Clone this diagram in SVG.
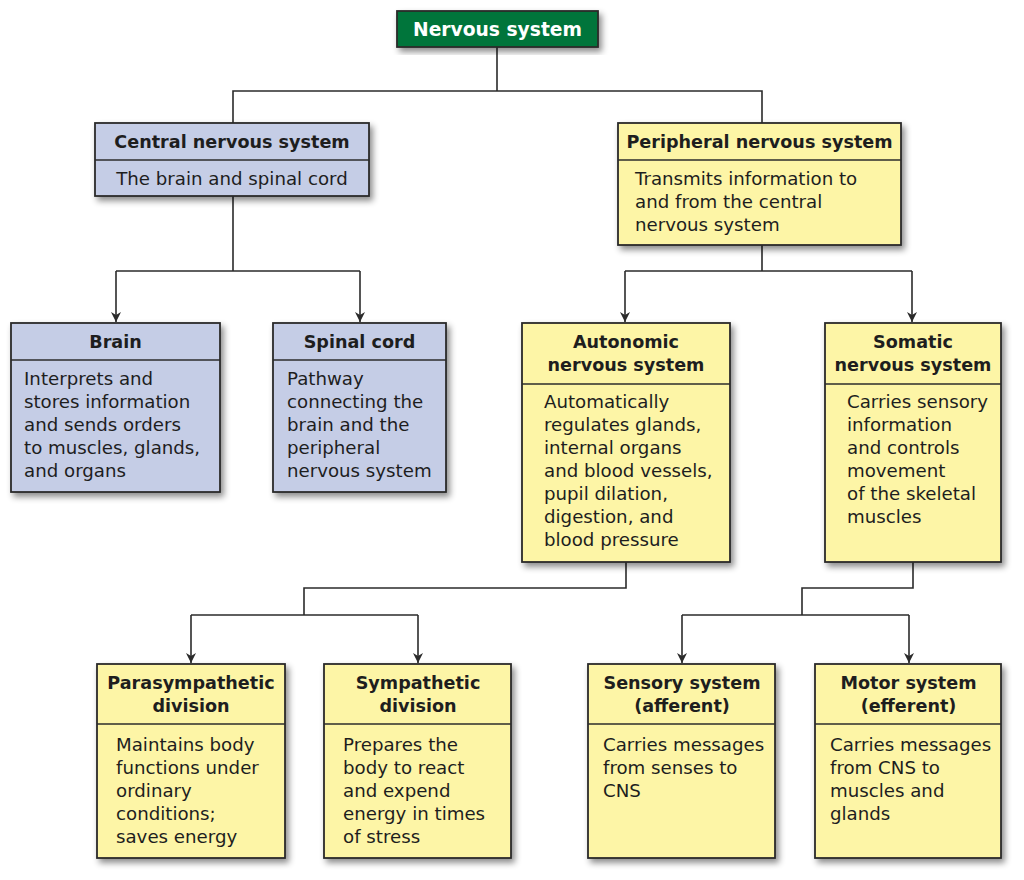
<svg xmlns="http://www.w3.org/2000/svg" width="1024" height="880" viewBox="0 0 1024 880">
<defs>
<filter id="sh" x="-10%" y="-10%" width="130%" height="130%">
<feDropShadow dx="3" dy="4" stdDeviation="3" flood-color="#000" flood-opacity="0.45"/>
</filter>
<marker id="ar" viewBox="0 0 10 10" refX="10" refY="5" markerWidth="10" markerHeight="10" markerUnits="userSpaceOnUse" orient="auto">
<path d="M0,0 L10,5 L0,10 L3,5 z" fill="#2b2b2b"/>
</marker>
</defs>
<style>
.box{stroke:#2b2b2b;stroke-width:1.8;filter:url(#sh)}
.blue{fill:#c5cde6}
.yel{fill:#fdf5a6}
.div{stroke:#2b2b2b;stroke-width:1.5}
.t{font-family:"DejaVu Sans","Open Sans",sans-serif;font-weight:700;font-size:17.6px;fill:#1e1e1e;text-anchor:middle}
.b{font-family:"DejaVu Sans","Open Sans",sans-serif;font-size:18.2px;fill:#1e1e1e}
.con{fill:none;stroke:#2b2b2b;stroke-width:1.6}
</style>
<rect width="1024" height="880" fill="#fff"/>
<g id="connectors" class="con">
<path d="M497,47 V91 M233,123 V91 H762 V123"/>
<path d="M233,196 V271 M116,271 H360"/>
<path d="M116,271 V322" marker-end="url(#ar)"/>
<path d="M360,271 V322" marker-end="url(#ar)"/>
<path d="M762,245 V271 M625,271 H912"/>
<path d="M625,271 V322" marker-end="url(#ar)"/>
<path d="M912,271 V322" marker-end="url(#ar)"/>
<path d="M626,562 V588 H304 V615 M191,615 H418"/>
<path d="M191,615 V663" marker-end="url(#ar)"/>
<path d="M418,615 V663" marker-end="url(#ar)"/>
<path d="M913,562 V588 H802 V615 M682,615 H909"/>
<path d="M682,615 V663" marker-end="url(#ar)"/>
<path d="M909,615 V663" marker-end="url(#ar)"/>
</g>
<g id="nervous-system">
<rect x="397" y="11" width="201" height="36" fill="#00753a" class="box"/>
<text x="497.5" y="36" class="t" style="fill:#fff;font-size:18.7px">Nervous system</text>
</g>
<g id="cns">
<rect x="95" y="123" width="274" height="73" class="box blue"/>
<line x1="95" y1="160" x2="369" y2="160" class="div"/>
<text x="232" y="148" class="t">Central nervous system</text>
<text x="232" y="185" class="b" text-anchor="middle">The brain and spinal cord</text>
</g>
<g id="pns">
<rect x="618" y="123" width="283" height="122" class="box yel"/>
<line x1="618" y1="160" x2="901" y2="160" class="div"/>
<text x="759.5" y="148" class="t">Peripheral nervous system</text>
<text class="b"><tspan x="635" y="185">Transmits information to</tspan><tspan x="635" y="208">and from the central</tspan><tspan x="635" y="231">nervous system</tspan></text>
</g>
<g id="brain">
<rect x="11" y="323" width="209" height="169" class="box blue"/>
<line x1="11" y1="360" x2="220" y2="360" class="div"/>
<text x="115.5" y="348" class="t">Brain</text>
<text class="b"><tspan x="24" y="385">Interprets and</tspan><tspan x="24" y="408">stores information</tspan><tspan x="24" y="431">and sends orders</tspan><tspan x="24" y="454">to muscles, glands,</tspan><tspan x="24" y="477">and organs</tspan></text>
</g>
<g id="spinal-cord">
<rect x="273" y="323" width="173" height="169" class="box blue"/>
<line x1="273" y1="360" x2="446" y2="360" class="div"/>
<text x="359.5" y="348" class="t">Spinal cord</text>
<text class="b"><tspan x="287" y="385">Pathway</tspan><tspan x="287" y="408">connecting the</tspan><tspan x="287" y="431">brain and the</tspan><tspan x="287" y="454">peripheral</tspan><tspan x="287" y="477">nervous system</tspan></text>
</g>
<g id="autonomic">
<rect x="522" y="323" width="208" height="239" class="box yel"/>
<line x1="522" y1="384" x2="730" y2="384" class="div"/>
<text class="t"><tspan x="626" y="348">Autonomic</tspan><tspan x="626" y="371">nervous system</tspan></text>
<text class="b"><tspan x="544" y="408">Automatically</tspan><tspan x="544" y="431">regulates glands,</tspan><tspan x="544" y="454">internal organs</tspan><tspan x="544" y="477">and blood vessels,</tspan><tspan x="544" y="500">pupil dilation,</tspan><tspan x="544" y="523">digestion, and</tspan><tspan x="544" y="546">blood pressure</tspan></text>
</g>
<g id="somatic">
<rect x="825" y="323" width="176" height="239" class="box yel"/>
<line x1="825" y1="384" x2="1001" y2="384" class="div"/>
<text class="t"><tspan x="913" y="348">Somatic</tspan><tspan x="913" y="371">nervous system</tspan></text>
<text class="b"><tspan x="847" y="408">Carries sensory</tspan><tspan x="847" y="431">information</tspan><tspan x="847" y="454">and controls</tspan><tspan x="847" y="477">movement</tspan><tspan x="847" y="500">of the skeletal</tspan><tspan x="847" y="523">muscles</tspan></text>
</g>
<g id="parasympathetic">
<rect x="97" y="664" width="188" height="194" class="box yel"/>
<line x1="97" y1="724" x2="285" y2="724" class="div"/>
<text class="t"><tspan x="191" y="689">Parasympathetic</tspan><tspan x="191" y="712">division</tspan></text>
<text class="b"><tspan x="116" y="751">Maintains body</tspan><tspan x="116" y="774">functions under</tspan><tspan x="116" y="797">ordinary</tspan><tspan x="116" y="820">conditions;</tspan><tspan x="116" y="843">saves energy</tspan></text>
</g>
<g id="sympathetic">
<rect x="324" y="664" width="187" height="194" class="box yel"/>
<line x1="324" y1="724" x2="511" y2="724" class="div"/>
<text class="t"><tspan x="418" y="689">Sympathetic</tspan><tspan x="418" y="712">division</tspan></text>
<text class="b"><tspan x="343" y="751">Prepares the</tspan><tspan x="343" y="774">body to react</tspan><tspan x="343" y="797">and expend</tspan><tspan x="343" y="820">energy in times</tspan><tspan x="343" y="843">of stress</tspan></text>
</g>
<g id="sensory">
<rect x="588" y="664" width="187" height="194" class="box yel"/>
<line x1="588" y1="724" x2="775" y2="724" class="div"/>
<text class="t"><tspan x="682" y="689">Sensory system</tspan><tspan x="682" y="712">(afferent)</tspan></text>
<text class="b"><tspan x="603" y="751">Carries messages</tspan><tspan x="603" y="774">from senses to</tspan><tspan x="603" y="797">CNS</tspan></text>
</g>
<g id="motor">
<rect x="815" y="664" width="186" height="194" class="box yel"/>
<line x1="815" y1="724" x2="1001" y2="724" class="div"/>
<text class="t"><tspan x="908.5" y="689">Motor system</tspan><tspan x="908.5" y="712">(efferent)</tspan></text>
<text class="b"><tspan x="830" y="751">Carries messages</tspan><tspan x="830" y="774">from CNS to</tspan><tspan x="830" y="797">muscles and</tspan><tspan x="830" y="820">glands</tspan></text>
</g>
</svg>
